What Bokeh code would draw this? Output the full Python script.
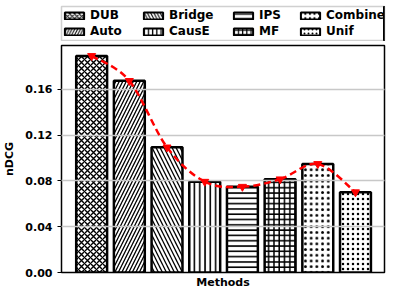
from bokeh.plotting import figure
from bokeh.layouts import column
from bokeh.models import Legend, LegendItem, NumeralTickFormatter, FixedTicker, Range1d
from bokeh.embed import file_html
from bokeh.resources import INLINE

methods = ["DUB", "Auto", "Bridge", "CausE", "IPS", "MF", "Combine", "Unif"]
ndcg = [0.1893, 0.1675, 0.1094, 0.0794, 0.0750, 0.0815, 0.0949, 0.0702]
hatches = ["x", "/", "\\", "|", "-", "+", ".", "."]
hatch_scales = [6, 7, 8, 5.3, 5.3, 5.3, 5.7, 5]
hatch_weights = [1.4, 1.3, 1.3, 1.6, 1.6, 1.5, 1.6, 2.8]
yticks = [0.0, 0.04, 0.08, 0.12, 0.16]

FONT = "DejaVu Sans"
LEG_H = 41

p = figure(width=391, height=295 - LEG_H, output_backend="svg", toolbar_location=None,
           x_range=Range1d(-0.8, 7.77), y_range=Range1d(0, 0.1984),
           min_border_left=51, min_border_right=7, min_border_bottom=23, min_border_top=4)

xs = list(range(len(methods)))
for i, m in enumerate(methods):
    p.vbar(x=[xs[i]], top=[ndcg[i]], width=0.82, fill_color="white", line_color="black",
           line_width=2.5, hatch_pattern=hatches[i], hatch_color="black",
           hatch_scale=hatch_scales[i], hatch_weight=hatch_weights[i])

# smooth dashed curve through values (Catmull-Rom as cubic Bezier segments)
n = len(xs)
x0, y0, x1, y1, cx0, cy0, cx1, cy1 = [], [], [], [], [], [], [], []
for i in range(n - 1):
    xm1, ym1 = (xs[i - 1], ndcg[i - 1]) if i > 0 else (xs[i], ndcg[i])
    xp2, yp2 = (xs[i + 2], ndcg[i + 2]) if i + 2 < n else (xs[i + 1], ndcg[i + 1])
    x0.append(xs[i]); y0.append(ndcg[i]); x1.append(xs[i + 1]); y1.append(ndcg[i + 1])
    cx0.append(xs[i] + (xs[i + 1] - xm1) / 6); cy0.append(ndcg[i] + (ndcg[i + 1] - ym1) / 6)
    cx1.append(xs[i + 1] - (xp2 - xs[i]) / 6); cy1.append(ndcg[i + 1] - (yp2 - ndcg[i]) / 6)
p.bezier(x0=x0, y0=y0, x1=x1, y1=y1, cx0=cx0, cy0=cy0, cx1=cx1, cy1=cy1,
         line_color="red", line_width=2.5, line_dash="7 4", level="overlay")
p.scatter(xs, ndcg, marker="inverted_triangle", size=8, color="red", level="overlay")

p.yaxis.ticker = FixedTicker(ticks=yticks)
p.yaxis.formatter = NumeralTickFormatter(format="0.00")
p.xaxis.ticker = FixedTicker(ticks=[])
p.yaxis.axis_label = "nDCG"
p.xaxis.axis_label = "Methods"
for ax in (p.xaxis, p.yaxis):
    ax.axis_label_text_font = FONT
    ax.axis_label_text_font_style = "bold"
    ax.axis_label_text_font_size = "11px"
    ax.axis_label_text_color = "black"
    ax.major_label_text_font = FONT
    ax.major_label_text_font_style = "bold"
    ax.major_label_text_font_size = "11px"
    ax.major_label_text_color = "black"
    ax.axis_line_color = "black"
    ax.minor_tick_line_color = None
p.xaxis.major_label_standoff = 0
p.xaxis.major_tick_line_color = None
p.xaxis.major_tick_out = 0
p.xaxis.axis_label_standoff = 3
p.yaxis.major_tick_out = 4
p.yaxis.major_tick_in = 0
p.yaxis.axis_label_standoff = 6
p.xgrid.grid_line_color = None
p.ygrid.grid_line_color = "#c8c8c8"
p.ygrid.grid_line_width = 1.5
p.ygrid.level = "annotation"
p.outline_line_color = "black"
p.outline_line_width = 1.5
p.outline_line_alpha = 1

# legend strip above the plot
lg = figure(width=391, height=LEG_H, output_backend="svg", toolbar_location=None,
            x_range=Range1d(0, 1), y_range=Range1d(0, 1),
            min_border_left=51, min_border_right=7, min_border_bottom=1, min_border_top=6)
lg.axis.visible = False
lg.grid.visible = False
lg.outline_line_color = "#d0d0d0"
lg.outline_line_width = 1.5
col_x = [1, 80, 170, 237]
for c in range(4):
    items = []
    for i in (2 * c, 2 * c + 1):
        r = lg.vbar(x=[5], top=[1], width=0.5, fill_color="white", line_color="black",
                    line_width=2, hatch_pattern=hatches[i], hatch_color="black",
                    hatch_scale=hatch_scales[i] * 0.8, hatch_weight=hatch_weights[i] * 0.8)
        items.append(LegendItem(label=methods[i], renderers=[r]))
    legend = Legend(items=items, orientation="vertical", location=(col_x[c], 2),
                    label_text_font=FONT, label_text_font_style="bold", label_text_font_size="12px",
                    label_text_color="black",
                    glyph_width=24, glyph_height=9, label_height=11, label_standoff=4, spacing=2,
                    padding=3, margin=0, border_line_color=None, background_fill_alpha=0)
    lg.add_layout(legend, "center")

layout = column(lg, p, spacing=0)
open("out.html", "w").write(file_html(layout, INLINE))
